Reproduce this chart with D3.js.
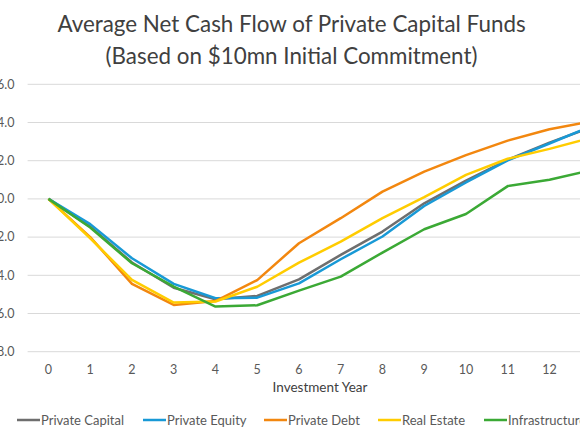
<!DOCTYPE html>
<html>
<head>
<meta charset="utf-8">
<script src="https://cdn.jsdelivr.net/npm/d3@7"></script>
<style>
  html, body { margin: 0; padding: 0; background: #fff; overflow: hidden; }
  svg { display: block; }
  text { font-family: Lato, "Open Sans", sans-serif; }
</style>
</head>
<body>
<svg id="chart" width="580" height="435"></svg>
<script>
// ---- data ----
const years = [0, 1, 2, 3, 4, 5, 6, 7, 8, 9, 10, 11, 12, 13];
const xTickLabels = [0, 1, 2, 3, 4, 5, 6, 7, 8, 9, 10, 11, 12];
const yTicks = [-8, -6, -4, -2, 0, 2, 4, 6];
const seriesNames = ["Private Capital", "Private Equity", "Private Debt", "Real Estate", "Infrastructure"];
const privateCapital = [0, -1.45, -3.33, -4.65, -5.25, -5.08, -4.21, -2.93, -1.71, -0.23, 0.96, 2.05, 2.95, 3.75];
const privateEquity  = [0, -1.32, -3.11, -4.45, -5.20, -5.17, -4.42, -3.16, -1.97, -0.37, 0.86, 2.02, 2.90, 3.80];
const privateDebt    = [0, -2.00, -4.45, -5.55, -5.35, -4.25, -2.32, -1.01, 0.38, 1.43, 2.29, 3.05, 3.65, 4.05];
const realEstate     = [0, -2.06, -4.24, -5.43, -5.37, -4.60, -3.34, -2.24, -1.01, 0.09, 1.26, 2.10, 2.62, 3.20];
const infrastructure = [0, -1.50, -3.37, -4.59, -5.64, -5.57, -4.80, -4.07, -2.81, -1.59, -0.79, 0.67, 1.00, 1.50];
const colors = ["#6e6e6e", "#1899d6", "#f2870f", "#ffcc00", "#3ba935"];
const titleLines = ["Average Net Cash Flow of Private Capital Funds", "(Based on $10mn Initial Commitment)"];
const xTitle = "Investment Year";

const seriesValues = [privateCapital, privateEquity, privateDebt, realEstate, infrastructure];
const series = seriesNames.map((n, i) => ({ name: n, color: colors[i], values: seriesValues[i] }));

// ---- layout ----
const svg = d3.select("#chart");
const left = 27.6, band = 41.75;
const x = d3.scalePoint().domain(years).range([left, left + band * years.length]).padding(0.5);
const y = d3.scaleLinear().domain([-8, 6]).range([351.7, 84.3]);

// gridlines
svg.append("g").selectAll("line").data(yTicks).join("line")
  .attr("x1", left).attr("x2", 640)
  .attr("y1", d => y(d)).attr("y2", d => y(d))
  .attr("stroke", "#d9d9d9").attr("stroke-width", 1);

// y labels
svg.append("g").selectAll("text").data(yTicks).join("text")
  .attr("x", 14.5).attr("y", d => y(d)).attr("dy", "0.35em")
  .attr("text-anchor", "end").attr("font-size", 12.5).attr("fill", "#595959")
  .text(d => d3.format(".1f")(d));

// x labels
svg.append("g").selectAll("text").data(xTickLabels).join("text")
  .attr("x", d => x(d)).attr("y", 374)
  .attr("text-anchor", "middle").attr("font-size", 12.5).attr("fill", "#595959")
  .text(d => d);

// x title
svg.append("text").attr("x", 320).attr("y", 392)
  .attr("text-anchor", "middle").attr("font-size", 13.5).attr("fill", "#404040")
  .text(xTitle);

// lines
const line = d3.line().x((d, i) => x(years[i])).y(d => y(d));
svg.append("g").selectAll("path").data(series).join("path")
  .attr("d", d => line(d.values))
  .attr("fill", "none").attr("stroke", d => d.color)
  .attr("stroke-width", 2.5).attr("stroke-linejoin", "round");

// title
svg.append("g").selectAll("text").data(titleLines).join("text")
  .attr("x", 291.5).attr("y", (d, i) => 32 + i * 32)
  .attr("text-anchor", "middle").attr("font-size", 22.4).attr("fill", "#404040")
  .text(d => d);

// legend
const legendX = [17, 143, 264, 378, 484];
const lg = svg.append("g").selectAll("g").data(series).join("g")
  .attr("transform", (d, i) => `translate(${legendX[i]},420)`);
lg.append("line").attr("x1", 0).attr("x2", 23).attr("y1", 0).attr("y2", 0)
  .attr("stroke", d => d.color).attr("stroke-width", 2.5);
lg.append("text").attr("x", 24).attr("y", 0).attr("dy", "0.35em")
  .attr("font-size", 13).attr("fill", "#595959").text(d => d.name);
</script>
</body>
</html>
